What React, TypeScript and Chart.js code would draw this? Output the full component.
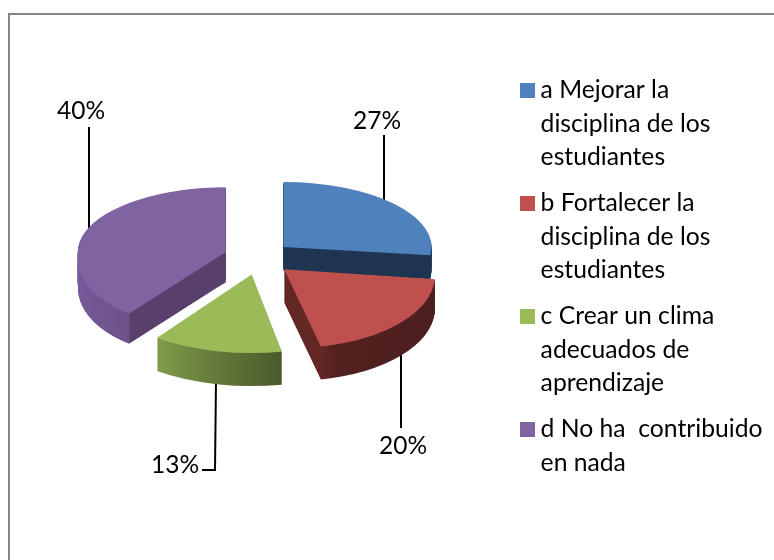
import React, { useEffect, useRef } from "react";
import { Chart, registerables } from "chart.js";

Chart.register(...registerables);

const categories: string[][] = [
  ["a Mejorar la", "disciplina de los", "estudiantes"],
  ["b Fortalecer la", "disciplina de los", "estudiantes"],
  ["c Crear un clima", "adecuados de", "aprendizaje"],
  ["d No ha  contribuido", "en nada"],
];
const values = [27, 20, 13, 40];
const colors = ["#4F81BD", "#C0504D", "#9BBB59", "#8064A2"];
const depths = [24, 33, 33, 30];

const FONT = "Lato, Carlito, sans-serif";
const PIE_CX = 258;
const PIE_CY = 257;
const RADIUS = 148;
const EXPLODE = 34;
const K_UP = 0.44;
// perspective of the lower half, slice by slice
const kDown = [0.5, 0.53, 0.53, 0.52];
const stretchX = [1, 1.02, 1.09, 1];
const shearX = [0, 0.11, 0, -0.17];
const stretchAt = [258, 284, 239, 258];

function swatch(color: string) {
  const c = document.createElement("canvas");
  c.width = 15;
  c.height = 15;
  const g = c.getContext("2d")!;
  g.fillStyle = color;
  g.fillRect(0, 0, 15, 15);
  return c;
}

// Gradients live in the arc's own drawing space, so their stops follow its corners.
function sideFill(ctx: CanvasRenderingContext2D, i: number, arc: any) {
  const cornerStart = arc.x + RADIUS * Math.cos(arc.startAngle);
  const cornerEnd = arc.x + RADIUS * Math.cos(arc.endAngle);
  if (i === 0) return "#1F3652";
  if (i === 1) {
    const g = ctx.createLinearGradient(cornerEnd, 0, arc.x + RADIUS, 0);
    g.addColorStop(0, "#632726");
    g.addColorStop(0.15, "#52201F");
    g.addColorStop(1, "#4C1F1F");
    return g;
  }
  if (i === 2) {
    const g = ctx.createLinearGradient(cornerEnd, 0, cornerStart, 0);
    g.addColorStop(0, "#7F9C4A");
    g.addColorStop(0.5, "#63783A");
    g.addColorStop(1, "#4B5A2A");
    return g;
  }
  const g = ctx.createLinearGradient(arc.x - RADIUS, 0, cornerStart + 1, 0);
  g.addColorStop(0, "#76599A");
  g.addColorStop(0.98, "#6C5288");
  g.addColorStop(1, "#593F6C");
  return g;
}

const pie3d = {
  id: "pie3d",
  beforeDraw(chart: any) {
    const { ctx } = chart;
    ctx.save();
    ctx.fillStyle = "#fff";
    ctx.fillRect(0, 0, chart.width, chart.height);
    ctx.strokeStyle = "#868686";
    ctx.lineWidth = 2;
    ctx.beginPath();
    ctx.moveTo(9, chart.height);
    ctx.lineTo(9, 14);
    ctx.lineTo(chart.width, 14);
    ctx.stroke();
    ctx.restore();
  },
  beforeDatasetsDraw(chart: any) {
    const { ctx } = chart;
    const meta = chart.getDatasetMeta(0);
    const cx0 = meta.data[0].x;
    const cy0 = meta.data[0].y;
    const total = values.reduce((a, b) => a + b, 0);

    // leader lines sit behind the slices
    const leaders = [
      [[384, 135], [384, 215]],
      [[401, 428], [401, 350]],
      [[202, 470], [215, 470], [216, 380]],
      [[89, 127], [89, 232]],
    ];
    ctx.save();
    ctx.strokeStyle = "#000";
    ctx.lineWidth = 2;
    leaders.forEach((pts) => {
      ctx.beginPath();
      pts.forEach(([x, y], j) => (j ? ctx.lineTo(x, y) : ctx.moveTo(x, y)));
      ctx.stroke();
    });
    ctx.restore();

    const paint = (arc: any, i: number, fill: any, dy: number) => {
      const saved = arc.options;
      const mid = (arc.startAngle + arc.endAngle) / 2;
      arc.options = { ...saved, backgroundColor: fill, borderWidth: 0 };
      [false, true].forEach((lower) => {
        ctx.save();
        ctx.translate(0, dy);
        ctx.beginPath();
        if (lower) ctx.rect(0, PIE_CY, chart.width, 2000);
        else ctx.rect(0, -1000, chart.width, PIE_CY + 1000);
        ctx.clip();
        if (lower) {
          const ax = stretchAt[i];
          ctx.translate(ax, PIE_CY);
          ctx.transform(stretchX[i], 0, shearX[i], 1, 0, 0);
          ctx.translate(-ax, -PIE_CY);
        }
        ctx.translate(PIE_CX, PIE_CY);
        ctx.scale(1, lower ? kDown[i] : K_UP);
        ctx.translate(Math.cos(mid) * EXPLODE, Math.sin(mid) * EXPLODE);
        ctx.translate(-cx0, -cy0);
        arc.draw(ctx);
        ctx.restore();
      });
      arc.options = saved;
    };

    [3, 0, 2, 1].forEach((i) => {
      const arc = meta.data[i];
      const side = sideFill(ctx, i, arc);
      for (let d = depths[i]; d >= 1; d--) paint(arc, i, side, d);
      paint(arc, i, colors[i], 0);
    });

    const labelPos = [
      [377, 121],
      [403, 446],
      [175, 465],
      [81, 111],
    ];
    ctx.save();
    ctx.fillStyle = "#000";
    ctx.font = `24.5px ${FONT}`;
    ctx.textAlign = "center";
    ctx.textBaseline = "middle";
    values.forEach((v, i) => {
      ctx.fillText(`${Math.round((v / total) * 100)}%`, labelPos[i][0], labelPos[i][1]);
    });
    ctx.restore();
    return false;
  },
};

export default function App() {
  const ref = useRef<HTMLCanvasElement>(null);
  useEffect(() => {
    const chart = new Chart(ref.current!, {
      type: "pie",
      plugins: [pie3d],
      data: {
        labels: categories as any,
        datasets: [
          {
            data: values,
            backgroundColor: colors,
            borderWidth: 0,
            radius: RADIUS,
          } as any,
        ],
      },
      options: {
        responsive: false,
        animation: false,
        layout: { padding: { left: 2, right: 1.5, top: 65.5, bottom: 20 } },
        plugins: {
          tooltip: { enabled: false },
          legend: {
            position: "right",
            align: "start",
            labels: {
              color: "#000",
              boxWidth: 15,
              boxHeight: 15,
              usePointStyle: true,
              pointStyleWidth: 1,
              padding: 12.5,
              font: { family: FONT, size: 24.7, lineHeight: 33.5 / 24.7 },
              generateLabels: () =>
                categories.map((text, i) => ({
                  text,
                  fillStyle: colors[i],
                  strokeStyle: colors[i],
                  lineWidth: 0,
                  hidden: false,
                  index: i,
                  pointStyle: swatch(colors[i]),
                })) as any,
            },
          },
        },
      } as any,
    });
    return () => chart.destroy();
  }, []);
  return (
    <canvas
      ref={ref}
      width={774}
      height={560}
      style={{ position: "absolute", left: 0, top: 0, display: "block" }}
    />
  );
}
